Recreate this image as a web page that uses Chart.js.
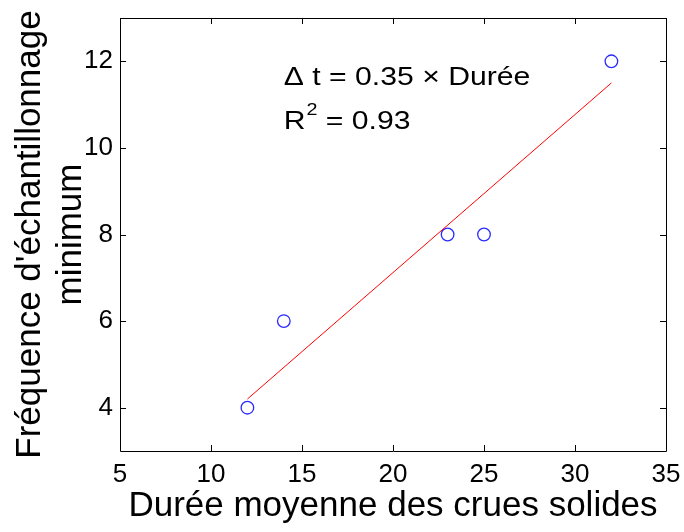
<!DOCTYPE html>
<html>
<head>
<meta charset="utf-8">
<script src="https://cdn.jsdelivr.net/npm/chart.js@4/dist/chart.umd.min.js"></script>
<style>
  html, body { margin: 0; padding: 0; background: #fff; }
  #wrap { width: 684px; height: 532px; position: relative; }
</style>
</head>
<body>
<div id="wrap"><canvas id="c"></canvas></div>
<script>
// measured durations vs minimum sampling frequency
const duree = [12, 14, 23, 25, 32];
const frequence = [4, 6, 8, 8, 12];

// fitted line, drawn between its two end points
const fitX = [12, 32];
const fitY = [4.2, 11.5];

const xTicks = [5, 10, 15, 20, 25, 30, 35];
const yTicks = [4, 6, 8, 10, 12];

const FONT = "'Liberation Sans', Arial, sans-serif";

// axes box with inward ticks on all four sides, plus the fit text
const boxPlugin = {
  id: "box",
  afterDraw(chart) {
    const { ctx, chartArea: a, scales } = chart;
    const len = 6;
    ctx.save();
    ctx.strokeStyle = "#000";
    ctx.lineWidth = 1;
    ctx.beginPath();
    ctx.rect(a.left + 0.5, a.top + 0.5, a.right - a.left, a.bottom - a.top);
    for (const v of xTicks) {
      const px = Math.round(scales.x.getPixelForValue(v)) + 0.5;
      ctx.moveTo(px, a.bottom); ctx.lineTo(px, a.bottom - len);
      ctx.moveTo(px, a.top); ctx.lineTo(px, a.top + len);
    }
    for (const v of yTicks) {
      const py = Math.round(scales.y.getPixelForValue(v)) + 0.5;
      ctx.moveTo(a.left, py); ctx.lineTo(a.left + len, py);
      ctx.moveTo(a.right, py); ctx.lineTo(a.right - len, py);
    }
    ctx.stroke();

    // regression text, slightly widened
    const tx = scales.x.getPixelForValue(14);
    const ty = scales.y.getPixelForValue(11.45);
    ctx.fillStyle = "#000";
    ctx.textBaseline = "alphabetic";
    ctx.translate(tx, ty);
    ctx.scale(1.16, 1);
    ctx.font = "26px " + FONT;
    ctx.fillText("\u0394 t = 0.35 \u00d7 Durée", 0, 0);
    ctx.fillText("R", 0, 44);
    ctx.font = "17px " + FONT;
    ctx.fillText("2", 19.5, 30);
    ctx.font = "26px " + FONT;
    ctx.fillText(" = 0.93", 29, 44);
    ctx.restore();
  }
};

new Chart(document.getElementById("c"), {
  type: "scatter",
  data: {
    datasets: [
      {
        type: "line",
        data: fitX.map((x, i) => ({ x, y: fitY[i] })),
        borderColor: "#ff0000",
        borderWidth: 1,
        pointRadius: 0,
        fill: false,
        tension: 0,
      },
      {
        data: duree.map((x, i) => ({ x, y: frequence[i] })),
        pointStyle: "circle",
        pointRadius: 6.3,
        pointBorderWidth: 1.3,
        borderColor: "#2a2aff",
        backgroundColor: "rgba(0,0,0,0)",
      },
    ],
  },
  options: {
    responsive: true,
    maintainAspectRatio: false,
    animation: false,
    layout: { padding: { top: 18, right: 18, left: 0, bottom: 0 } },
    plugins: { legend: { display: false }, tooltip: { enabled: false } },
    scales: {
      x: {
        type: "linear",
        min: 5, max: 35,
        afterBuildTicks: (s) => { s.ticks = xTicks.map((v) => ({ value: v })); },
        afterFit: (s) => { s.height = 81; s.paddingLeft = 0; s.paddingRight = 0; },
        grid: { display: false, drawTicks: false },
        border: { display: false },
        ticks: { color: "#000", font: { family: FONT, size: 26 }, padding: 8, maxRotation: 0 },
        title: {
          display: true,
          text: "Durée moyenne des crues solides",
          color: "#000",
          font: { family: FONT, size: 35, lineHeight: 1.2 },
          padding: { top: 0, bottom: 5 },
        },
      },
      y: {
        type: "linear",
        min: 3, max: 13,
        afterBuildTicks: (s) => { s.ticks = yTicks.map((v) => ({ value: v })); },
        afterFit: (s) => { s.width = 120; s.paddingTop = 0; s.paddingBottom = 0; },
        grid: { display: false, drawTicks: false },
        border: { display: false },
        ticks: { color: "#000", font: { family: FONT, size: 26 }, padding: 7 },
        title: {
          display: true,
          text: ["Fréquence d'échantillonnage", "minimum"],
          color: "#000",
          font: { family: FONT, size: 35, lineHeight: 1.17 },
          padding: { top: 10, bottom: 0 },
        },
      },
    },
  },
  plugins: [boxPlugin],
});
</script>
</body>
</html>
